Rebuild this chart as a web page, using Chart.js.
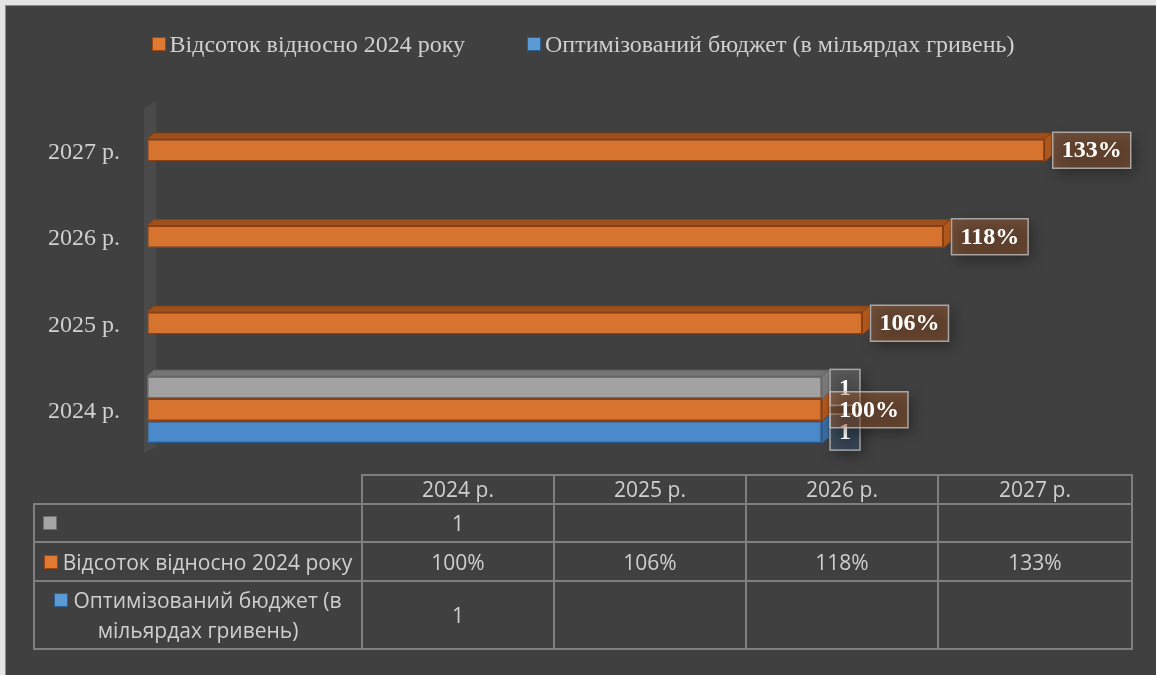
<!DOCTYPE html>
<html>
<head>
<meta charset="utf-8">
<script src="https://cdn.jsdelivr.net/npm/chart.js@4.4.1/dist/chart.umd.min.js"></script>
<style>
html,body{margin:0;padding:0;background:#e4e4e4;width:1156px;height:675px;overflow:hidden;}
#frame{position:absolute;left:5px;top:5px;width:1170px;height:690px;background:#404040;border-left:1px solid #8c8c8c;border-top:1px solid #8c8c8c;}
#c{position:absolute;left:0;top:0;}
#legend{position:absolute;left:5px;top:29px;width:1156px;height:30px;display:flex;justify-content:center;align-items:center;font-family:'Liberation Serif',serif;font-size:24px;color:#d0d0d0;white-space:nowrap;}
.li{display:flex;align-items:center;margin:0 31px;}
.lk{display:inline-block;width:12px;height:12px;border:1.5px solid;margin-right:4px;}
#tbl{position:absolute;left:33px;top:474px;border-collapse:collapse;font-family:'Open Sans',sans-serif;font-size:21px;color:#cfcfcf;table-layout:fixed;}
#tbl td{border:2px solid #7f7f7f;text-align:center;padding:0;line-height:30px;}
#tbl td.blank{border-top:none;border-left:none;}
.tk{display:inline-block;width:12px;height:12px;border:1.5px solid;margin-right:5px;vertical-align:middle;position:relative;top:-2px;}
</style>
</head>
<body>
<div id="frame"></div>
<canvas id="c" width="1156" height="675"></canvas>
<div id="legend"></div>
<table id="tbl"></table>
<script>
// ---- data ----
const categories = ['2024 р.', '2025 р.', '2026 р.', '2027 р.'];
const seriesBase = [1, null, null, null];          // unnamed grey series
const seriesPercent = [1.00, 1.06, 1.18, 1.33];    // Відсоток відносно 2024 року
const seriesBudget = [1, null, null, null];        // Оптимізований бюджет
const seriesNames = ['', 'Відсоток відносно 2024 року', 'Оптимізований бюджет (в мільярдах гривень)'];
const seriesIsPercent = [false, true, false];
const xMax = 1.4;

// ---- styles ----
const styles = [
  {front:'#a2a2a2', border:'#6a6a6a', top:'#747474', side:'#7c7c7c', label:'rgba(160,160,160,0.28)', key:'#a5a5a5', keyBorder:'#6f6f6f'},
  {front:'#d6732f', border:'#8c3f12', top:'#9e501d', side:'#b35b20', label:'rgba(212,114,47,0.30)', key:'#e07a33', keyBorder:'#9a4614'},
  {front:'#4a8acb', border:'#2b5b8e', top:'#35638f', side:'#3a6ea3', label:'rgba(74,138,203,0.22)', key:'#5b9bd5', keyBorder:'#2e5f8f'}
];
const DX = 7, DY = 6;

function fmt(d, v){ return seriesIsPercent[d] ? Math.round(v*100) + '%' : String(v); }

const wallPlugin = {
  id:'wall',
  beforeDatasetsDraw(chart){
    const {ctx, chartArea:a} = chart;
    ctx.save();
    ctx.fillStyle = '#4a4a4a';
    ctx.beginPath();
    ctx.moveTo(a.left-3, a.top+1);
    ctx.lineTo(a.left+9, a.top-6);
    ctx.lineTo(a.left+9, a.bottom-6);
    ctx.lineTo(a.left-3, a.bottom);
    ctx.closePath();
    ctx.fill();
    ctx.restore();
  }
};

const depthPlugin = {
  id:'depth',
  beforeDatasetsDraw(chart){
    const ctx = chart.ctx;
    for (let d = chart.data.datasets.length-1; d >= 0; d--){
      const meta = chart.getDatasetMeta(d);
      const st = styles[d];
      meta.data.forEach((el, i) => {
        if (chart.data.datasets[d].data[i] == null) return;
        const p = el.getProps(['x','y','base','height'], true);
        const l = Math.min(p.x, p.base), r = Math.max(p.x, p.base);
        const t = p.y - p.height/2, b = p.y + p.height/2;
        ctx.save();
        ctx.lineWidth = 1; ctx.strokeStyle = st.border;
        ctx.fillStyle = st.top;
        ctx.beginPath();
        ctx.moveTo(l, t); ctx.lineTo(r, t); ctx.lineTo(r+DX, t-DY); ctx.lineTo(l+DX, t-DY);
        ctx.closePath(); ctx.fill(); ctx.stroke();
        ctx.fillStyle = st.side;
        ctx.beginPath();
        ctx.moveTo(r, t); ctx.lineTo(r+DX, t-DY); ctx.lineTo(r+DX, b-DY); ctx.lineTo(r, b);
        ctx.closePath(); ctx.fill(); ctx.stroke();
        ctx.restore();
      });
    }
  }
};

const labelPlugin = {
  id:'boxlabels',
  afterDatasetsDraw(chart){
    const ctx = chart.ctx;
    const order = [2, 0, 1];
    ctx.save();
    ctx.font = 'bold 24px "Liberation Serif"';
    order.forEach(d => {
      const meta = chart.getDatasetMeta(d);
      meta.data.forEach((el, i) => {
        const v = chart.data.datasets[d].data[i];
        if (v == null) return;
        const p = el.getProps(['x','y','base'], true);
        const txt = fmt(d, v);
        const w = ctx.measureText(txt).width;
        const bw = w + 18, bh = 36;
        const bx = Math.max(p.x, p.base) + DX + 1;
        const by = p.y - bh/2;
        ctx.save();
        ctx.shadowColor = 'rgba(0,0,0,0.35)';
        ctx.shadowBlur = 14;
        ctx.shadowOffsetX = 10004; ctx.shadowOffsetY = 5;
        ctx.fillStyle = '#000';
        ctx.fillRect(bx - 10000, by, bw, bh);
        ctx.restore();
        ctx.fillStyle = styles[d].label;
        ctx.fillRect(bx, by, bw, bh);
        ctx.lineWidth = 1.5;
        ctx.strokeStyle = 'rgba(200,200,200,0.75)';
        ctx.strokeRect(bx, by, bw, bh);
        ctx.fillStyle = '#ffffff';
        ctx.textAlign = 'center';
        ctx.textBaseline = 'middle';
        ctx.fillText(txt, bx + bw/2, p.y + 1);
      });
    });
    ctx.restore();
  }
};

const allSeries = [seriesBase, seriesPercent, seriesBudget];

new Chart(document.getElementById('c'), {
  type:'bar',
  data:{
    labels: categories,
    datasets: allSeries.map((s, d) => ({
      label: seriesNames[d], data: s,
      backgroundColor: styles[d].front, borderColor: styles[d].border,
      borderWidth: 1.5, borderSkipped: false,
      categoryPercentage: 0.776, barPercentage: 1
    }))
  },
  options:{
    indexAxis:'y', responsive:false, animation:false, devicePixelRatio:1,
    layout:{padding:{left:0, right:64, top:107, bottom:222}},
    scales:{
      x:{display:false, min:0, max:xMax},
      y:{reverse:true, grid:{display:false, drawTicks:false}, border:{display:false},
         ticks:{padding:27, labelOffset:2, color:'#d0d0d0', font:{family:'Liberation Serif', size:24}},
         afterFit(s){ s.width = 147; }}
    },
    plugins:{legend:{display:false}, tooltip:{enabled:false}}
  },
  plugins:[wallPlugin, depthPlugin, labelPlugin]
});

// legend (named series only)
const leg = document.getElementById('legend');
[1, 2].forEach(d => {
  const it = document.createElement('div'); it.className = 'li';
  const k = document.createElement('span'); k.className = 'lk';
  k.style.background = styles[d].key; k.style.borderColor = styles[d].keyBorder;
  it.appendChild(k);
  it.appendChild(document.createTextNode(seriesNames[d]));
  leg.appendChild(it);
});

// data table
const tbl = document.getElementById('tbl');
const cg = document.createElement('colgroup');
[328, 192, 192, 192, 194].forEach(w => { const c = document.createElement('col'); c.style.width = w + 'px'; cg.appendChild(c); });
tbl.appendChild(cg);
const hr = document.createElement('tr'); hr.style.height = '29px';
const blank = document.createElement('td'); blank.className = 'blank'; hr.appendChild(blank);
categories.forEach(c => { const td = document.createElement('td'); td.textContent = c; td.style.lineHeight = '25px'; hr.appendChild(td); });
tbl.appendChild(hr);
const rowHeights = [38, 39, 68];
[0, 1, 2].forEach((d, ri) => {
  const tr = document.createElement('tr'); tr.style.height = rowHeights[ri] + 'px';
  const th = document.createElement('td');
  const k = document.createElement('span'); k.className = 'tk';
  k.style.background = styles[d].key; k.style.borderColor = styles[d].keyBorder;
  th.appendChild(k);
  if (d === 2) {
    th.appendChild(document.createTextNode('Оптимізований бюджет (в'));
    th.appendChild(document.createElement('br'));
    th.appendChild(document.createTextNode('мільярдах гривень)'));
  } else {
    th.appendChild(document.createTextNode(seriesNames[d]));
  }
  if (d === 0) th.style.textAlign = 'left', th.style.paddingLeft = '8px';
  tr.appendChild(th);
  allSeries[d].forEach(v => {
    const td = document.createElement('td');
    td.textContent = v == null ? '' : fmt(d, v);
    tr.appendChild(td);
  });
  tbl.appendChild(tr);
});
</script>
</body>
</html>
